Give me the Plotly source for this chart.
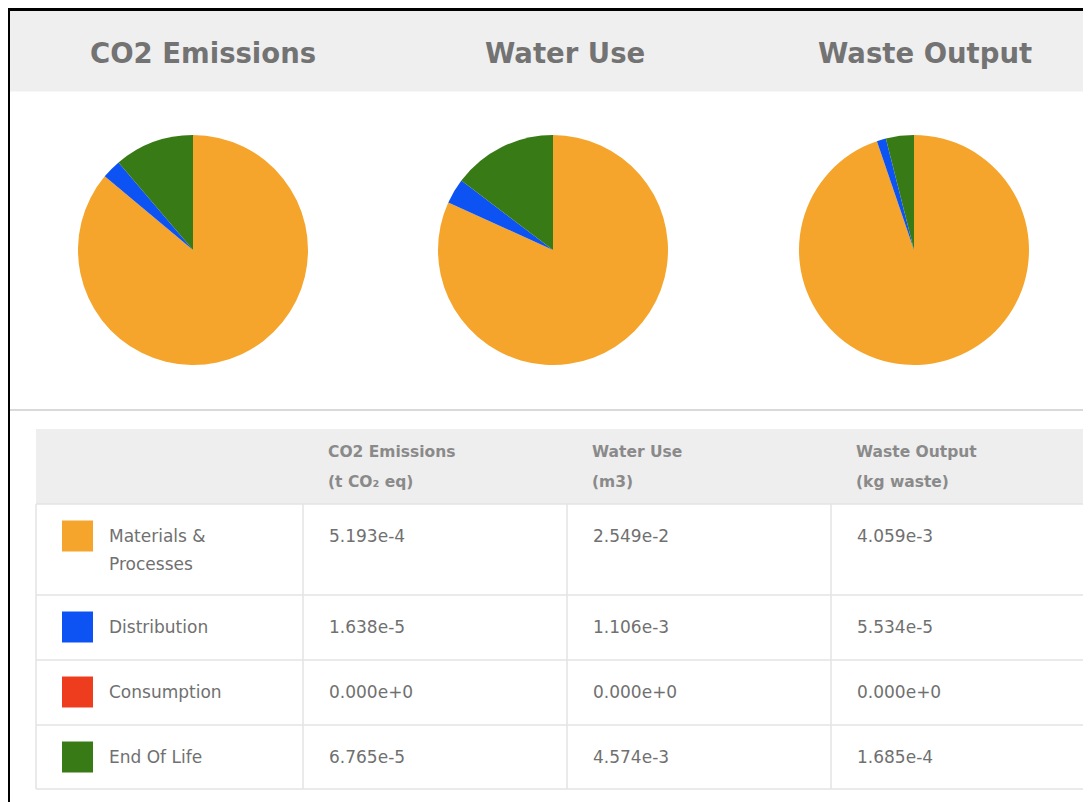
import plotly.graph_objects as go

# the page puts the figure 8px in from the window's top-left corner
OFF = 8
W, H = 1091 - OFF, 802 - OFF

# data
stages = ["Materials &<br>Processes", "Distribution", "Consumption", "End Of Life"]
stage_colors = ["#f5a52c", "#0d53f3", "#ee3c1f", "#387a15"]
metrics = ["CO2 Emissions", "Water Use", "Waste Output"]
units = ["(t CO₂ eq)", "(m3)", "(kg waste)"]
co2 = [5.193e-4, 1.638e-5, 0.0, 6.765e-5]
water = [2.549e-2, 1.106e-3, 0.0, 4.574e-3]
waste = [4.059e-3, 5.534e-5, 0.0, 1.685e-4]
series = [co2, water, waste]


def fmt(v):
    m, e = f"{v:.3e}".split("e")
    return f"{m}e{int(e):+d}"


def px(v):
    return v - OFF


# layout geometry (window pixels, y down)
pie_cx = [193, 553, 914]
pie_cy, pie_r = 250, 115
title_cx = [203, 565, 925]
col_edges = [36, 303, 567, 831, 1100]
head_top, head_bot = 429, 504
row_edges = [504, 595, 660, 725, 789]

grey_line = "#e3e3e3"
fig = go.Figure()

# pies
for i, vals in enumerate(series):
    cx, cy = px(pie_cx[i]), px(pie_cy)
    fig.add_trace(go.Pie(
        labels=[s.replace("<br>", " ") for s in stages], values=vals,
        marker=dict(colors=stage_colors, line=dict(width=0)),
        sort=False, direction="clockwise", textinfo="none",
        showlegend=False, hoverinfo="label+value",
        domain=dict(x=[(cx - pie_r) / W, (cx + pie_r) / W],
                    y=[1 - (cy + pie_r) / H, 1 - (cy - pie_r) / H]),
    ))

shapes = []
annotations = []

# frame + title band + separator
shapes.append(dict(type="rect", x0=px(10), x1=W + 5, y0=px(10.5), y1=px(91.5), fillcolor="#efefef",
                   line=dict(width=0), layer="below"))
shapes.append(dict(type="line", x0=0, x1=W, y0=1.5, y1=1.5, line=dict(color="#000", width=3)))
shapes.append(dict(type="line", x0=0.5, x1=0.5, y0=0, y1=H, line=dict(color="#000", width=3)))
shapes.append(dict(type="line", x0=px(10), x1=W, y0=px(410), y1=px(410),
                   line=dict(color="#d9d9d9", width=2)))

for i, m in enumerate(metrics):
    annotations.append(dict(x=px(title_cx[i]), y=px(53), text=f"<b>{m}</b>", showarrow=False,
                            font=dict(family="DejaVu Sans", size=27.5, color="#737373")))

# table header
shapes.append(dict(type="rect", x0=px(col_edges[0]), x1=px(col_edges[-1]), y0=px(head_top),
                   y1=px(head_bot), fillcolor="#eeeeee", line=dict(width=0), layer="below"))
head_font = dict(family="DejaVu Sans", size=15.5, color="#8a8a8a")
for i, m in enumerate(metrics):
    x = px(col_edges[i + 1] + 23)
    annotations.append(dict(x=x, y=px(452), text=f"<b>{m}</b>", xanchor="left", showarrow=False,
                            font=head_font))
    annotations.append(dict(x=x, y=px(482), text=f"<b>{units[i]}</b>", xanchor="left",
                            showarrow=False, font=head_font))

# table grid
for y in row_edges:
    shapes.append(dict(type="line", x0=px(col_edges[0]), x1=px(col_edges[-1]), y0=px(y), y1=px(y),
                       line=dict(color=grey_line, width=1.5)))
for x in col_edges[:-1]:
    shapes.append(dict(type="line", x0=px(x), x1=px(x), y0=px(row_edges[0]), y1=px(row_edges[-1]),
                       line=dict(color=grey_line, width=1.5)))

# table body text
body_font = dict(family="DejaVu Sans", size=17, color="#707070")
for r, st in enumerate(stages):
    top = row_edges[r]
    for k, line in enumerate(st.split("<br>")):
        annotations.append(dict(x=px(107), y=px(top + 31.5 + 28 * k), text=line, xanchor="left",
                                showarrow=False, font=body_font))
    for i, vals in enumerate(series):
        annotations.append(dict(x=px(col_edges[i + 1] + 24), y=px(top + 31.5), text=fmt(vals[r]),
                                xanchor="left", showarrow=False, font=body_font))

# colour swatches
fig.add_trace(go.Scatter(
    x=[px(77.5)] * len(stages), y=[px(row_edges[r] + 32) for r in range(len(stages))],
    mode="markers", showlegend=False, hoverinfo="skip",
    marker=dict(symbol="square", size=31, color=stage_colors, line=dict(width=0)),
))

fig.update_layout(
    width=W, height=H, margin=dict(l=0, r=0, t=0, b=0),
    paper_bgcolor="white", plot_bgcolor="white",
    xaxis=dict(range=[0, W], visible=False, fixedrange=True),
    yaxis=dict(range=[H, 0], visible=False, fixedrange=True),
    shapes=shapes, annotations=annotations,
)

fig.write_html("out.html")
